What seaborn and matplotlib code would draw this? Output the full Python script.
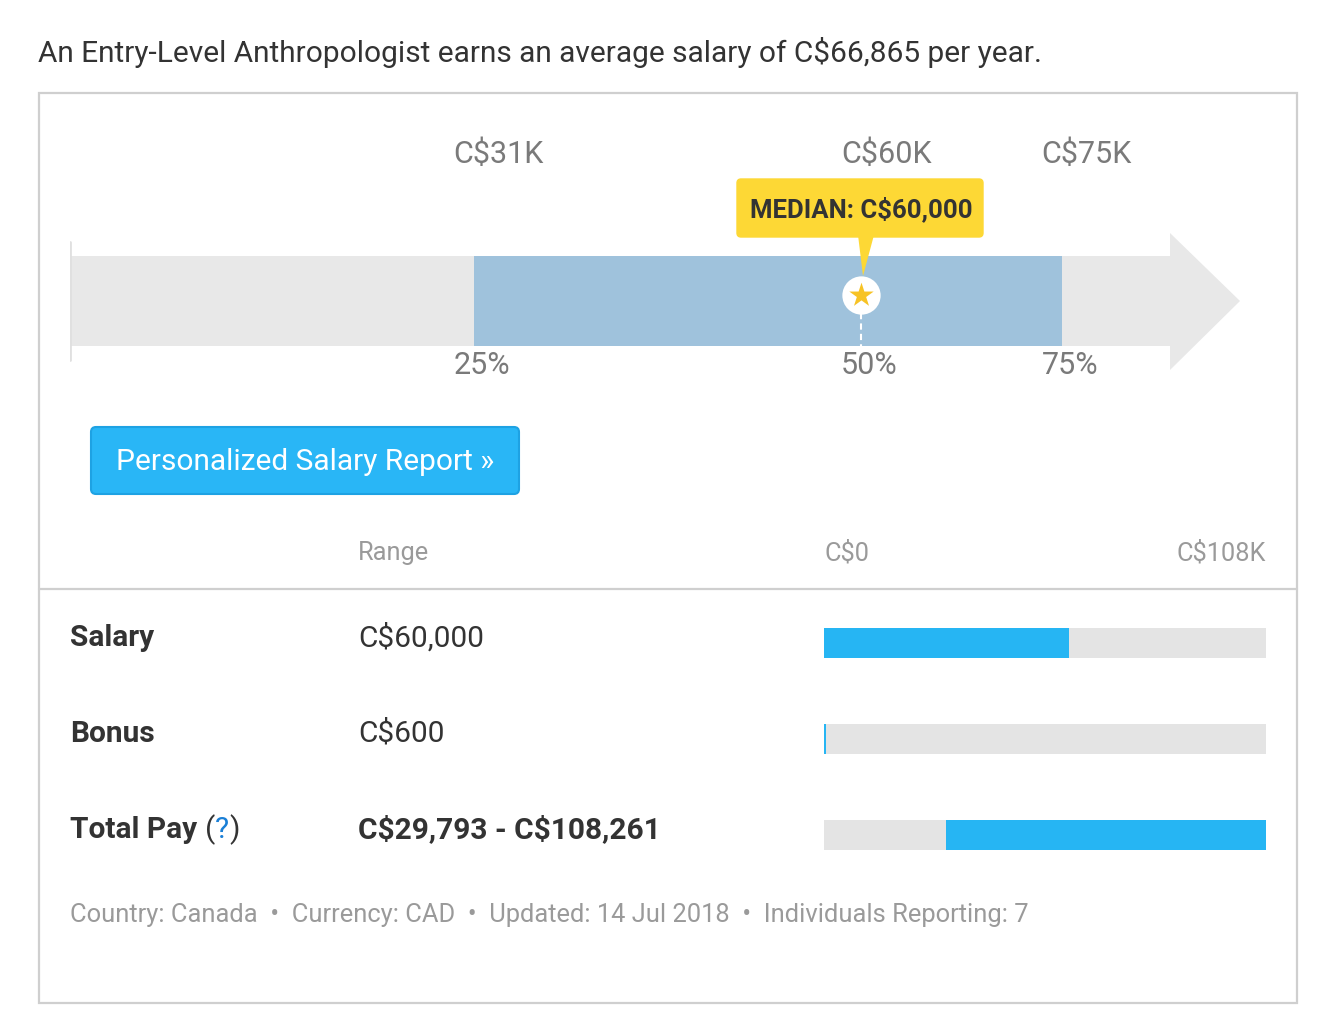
import numpy as np
import matplotlib
matplotlib.use("Agg")
import matplotlib.pyplot as plt
import seaborn as sns
from matplotlib.patches import FancyBboxPatch, Rectangle, Polygon

# ====================== data ======================

headline = "An Entry-Level Anthropologist earns an average salary of C$66,865 per year."
pct_names = ["25%", "50%", "75%"]
pct_values = [31, 60, 75]          # C$ thousands
pct_labels = ["C$31K", "C$60K", "C$75K"]
median_label = "MEDIAN: C$60,000"

pay_rows = ["Salary", "Bonus", "Total Pay"]
pay_text = ["C$60,000", "C$600", "C$29,793 - C$108,261"]
pay_low = [0, 0, 29793]
pay_high = [60000, 600, 108261]
pay_max = 108261
footer = "Country: Canada  •  Currency: CAD  •  Updated: 14 Jul 2018  •  Individuals Reporting: 7"

# ====================== style ======================

sns.set_theme(style="white")
plt.rcParams['font.family'] = ['Roboto', 'DejaVu Sans']
plt.rcParams['text.parse_math'] = False

W, H = 1318, 1032
fig = plt.figure(figsize=(W / 100, H / 100), dpi=100)


def px_axes(x0, y0, x1, y1):
    # axes placed by pixel box (top-left origin)
    return fig.add_axes([x0 / W, 1 - y1 / H, (x1 - x0) / W, (y1 - y0) / H])


ax = px_axes(0, 0, W, H)
ax.set_xlim(0, W)
ax.set_ylim(H, 0)
ax.axis("off")

dark = "#333333"
grey_txt = "#7a7a7a"
light_txt = "#9a9a9a"
row_fs = 21.5

ax.text(38, 52, headline, fontsize=21.5, color=dark, va="center")

# outer box and divider
ax.add_patch(Rectangle((39, 93), 1258, 910, fill=False, ec="#cfcfcf", lw=1.6))
ax.plot([39, 1297], [589, 589], color="#cfcfcf", lw=1.6)

# ====================== range arrow ======================

# px = 59.5 + 13.36 * value  (value in C$K)
px0, scale = 59.5, 13.36
rax = px_axes(70, 200, 1240, 400)
rax.set_xlim((70 - px0) / scale, (1240 - px0) / scale)
rax.set_ylim(400, 200)
rax.axis("off")
rax.patch.set_alpha(0)

lo = (70 - px0) / scale
body_end = (1170 - px0) / scale
tip = (1240 - px0) / scale
track = "#e8e8e8"
rax.barh(301, body_end - lo, left=lo, height=90, color=track, lw=0, zorder=1)
rax.add_patch(Polygon([(body_end, 233), (tip, 301), (body_end, 370)],
                      closed=True, color=track, lw=0, zorder=1))
rax.plot([lo, lo], [242, 360], color="#e0e0e0", lw=2, zorder=2)

rax.barh(301, pct_values[2] - pct_values[0], left=pct_values[0], height=90,
         color="#9fc2dc", lw=0, zorder=2)

med = pct_values[1]
rax.plot([med, med], [313, 346], color="white", lw=1.5, ls=(0, (3, 2)), zorder=3)

# median tooltip (pixel coords, drawn in the range axes so it sits over the bar)
rax.add_patch(FancyBboxPatch((737, 179), 246, 58, boxstyle="round,pad=0,rounding_size=4",
                             fc="#fdd835", ec="#fdd835", lw=1, zorder=5,
                             transform=ax.transData, clip_on=False))
rax.add_patch(Polygon([(858, 235), (874, 235), (863, 276)], closed=True,
                      color="#fdd835", lw=0, zorder=5, transform=ax.transData, clip_on=False))
rax.text(med, 209, median_label, fontsize=18.5, fontweight="bold", color=dark,
         ha="center", va="center", zorder=6)

rax.scatter([med], [295], s=760, color="white", zorder=6, lw=0)
rax.scatter([med], [295], s=340, marker="*", color="#f7c325", zorder=7, lw=0)

shift = 20 / scale
for v, lab, name in zip(pct_values, pct_labels, pct_names):
    rax.text(v - shift, 154, lab, fontsize=22, color=grey_txt, va="center", ha="left")
    rax.text(v - shift, 366, name, fontsize=22, color=grey_txt, va="center", ha="left")

# button
ax.add_patch(FancyBboxPatch((91, 427), 428, 67, boxstyle="round,pad=0,rounding_size=5",
                            fc="#29b6f6", ec="#1ea2e3", lw=1.5))
ax.text(116, 462, "Personalized Salary Report »", fontsize=21.5, color="white", va="center")

# ====================== pay table ======================

ax.text(358, 553, "Range", fontsize=18.3, color=light_txt, va="center")
ax.text(824, 553, "C$0", fontsize=18.3, color=light_txt, va="center")
ax.text(1266, 553, "C$108K", fontsize=18.3, color=light_txt, va="center", ha="right")

row_y = [638, 734, 830]
for y, name, val in zip(row_y, pay_rows, pay_text):
    if name == "Total Pay":
        t = ax.text(70, y, "Total Pay ", fontsize=row_fs, fontweight="bold", color=dark, va="center")
        fig.canvas.draw()
        x_next = t.get_window_extent().x1
        t2 = ax.annotate("(", xy=(x_next, H - y), xycoords="figure pixels", fontsize=row_fs,
                         color=dark, va="center")
        fig.canvas.draw()
        b2 = t2.get_window_extent()
        t3 = ax.annotate("?", xy=(b2.x1, H - y), xycoords="figure pixels", fontsize=row_fs,
                         color="#1a7fd6", va="center")
        fig.canvas.draw()
        b3 = t3.get_window_extent()
        ax.annotate(")", xy=(b3.x1, H - y), xycoords="figure pixels", fontsize=row_fs,
                    color=dark, va="center")
        ax.text(358, y, val, fontsize=row_fs, fontweight="bold", color=dark, va="center")
    else:
        ax.text(70, y, name, fontsize=row_fs, fontweight="bold", color=dark, va="center")
        ax.text(358, y, val, fontsize=row_fs, color=dark, va="center")

pax = px_axes(824, 595, 1266, 883)
sns.barplot(x=[pay_max] * len(pay_rows), y=pay_rows, color="#e4e4e4", width=30 / 96,
            ax=pax, orient="h", saturation=1, linewidth=0)
pax.barh(np.arange(len(pay_rows)), np.array(pay_high) - np.array(pay_low), left=pay_low,
         height=30 / 96, color="#26b5f3", lw=0, zorder=3)
pax.set_xlim(0, pay_max)
pax.set_ylim(2.5, -0.5)
pax.axis("off")
pax.patch.set_alpha(0)

ax.text(70, 915, footer, fontsize=18.4, color=light_txt, va="center")

fig.savefig("out.png", dpi=100)
